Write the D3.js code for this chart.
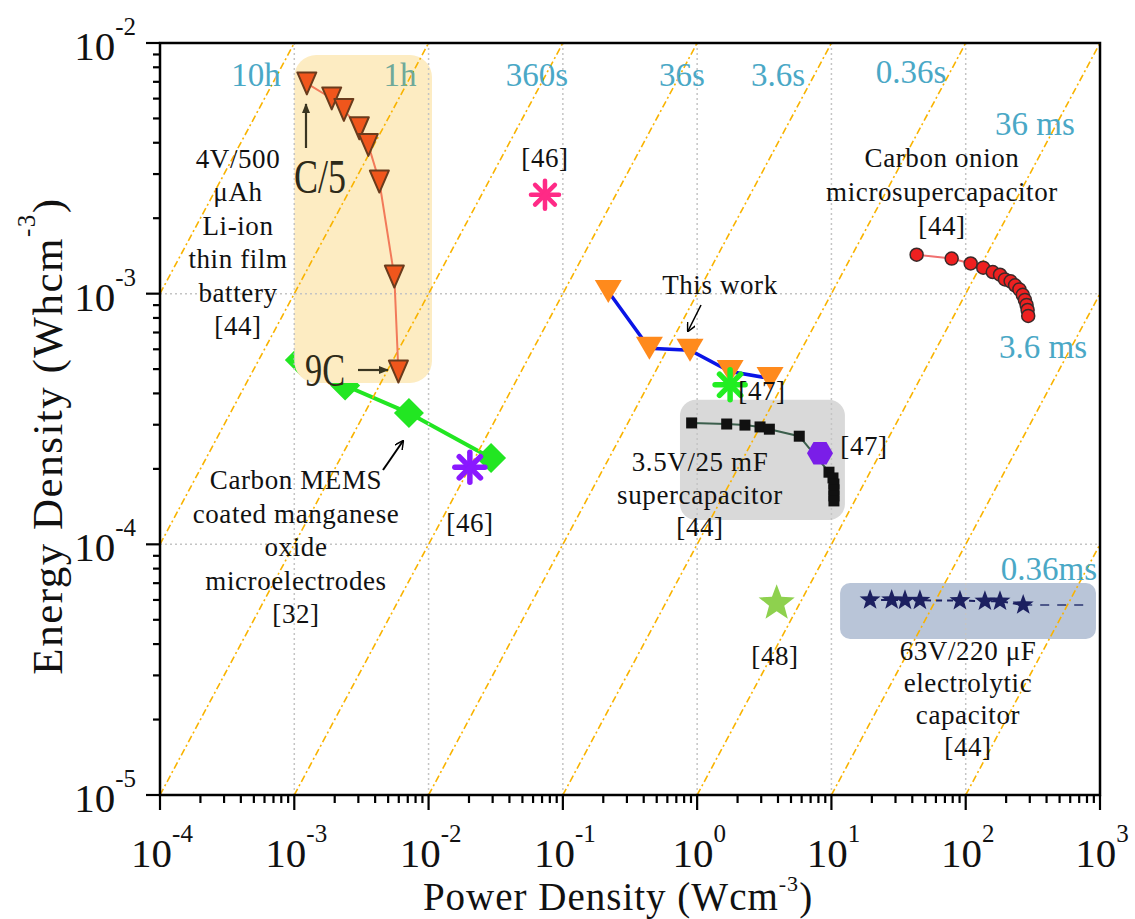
<!DOCTYPE html>
<html><head><meta charset="utf-8">
<script src="https://cdn.jsdelivr.net/npm/d3@7"></script>
<style>
body{margin:0;background:#fff}
svg{display:block}
text{font-family:"Liberation Serif","Times New Roman",serif}
</style>
</head><body>
<svg id="c" width="1135" height="919"></svg>
<script>
// ---------- data ----------
const xTickExps = [-4, -3, -2, -1, 0, 1, 2, 3];
const yTickExps = [-5, -4, -3, -2];
const timeConstHours = [10, 1, 0.1, 0.01, 0.001, 1e-4, 1e-5, 1e-6, 1e-7];
const timeLabels = ["10h", "1h", "360s", "36s", "3.6s", "0.36s", "36 ms", "3.6 ms", "0.36ms"];

// 4V/500 µAh Li-ion thin film battery [44]
const liionP = [1.24e-3, 1.90e-3, 2.34e-3, 3.05e-3, 3.56e-3, 4.30e-3, 5.56e-3, 5.96e-3];
const liionE = [6.90e-3, 6.01e-3, 5.41e-3, 4.57e-3, 3.92e-3, 2.80e-3, 1.17e-3, 4.89e-4];
// Carbon MEMS coated manganese oxide microelectrodes [32]
const memsP = [1.10e-3, 2.39e-3, 7.14e-3, 2.92e-2];
const memsE = [5.44e-4, 4.30e-4, 3.34e-4, 2.21e-4];
// This work
const workP = [0.218, 0.441, 0.885, 1.76, 3.49];
const workE = [1.02e-3, 6.05e-4, 5.95e-4, 4.89e-4, 4.59e-4];
// 3.5V/25 mF supercapacitor [44]
const superP = [0.910, 1.66, 2.27, 2.94, 3.45, 5.76, 9.59, 10.27, 10.44, 10.44, 10.44, 10.44];
const superE = [3.05e-4, 3.02e-4, 2.99e-4, 2.94e-4, 2.88e-4, 2.70e-4, 1.94e-4, 1.84e-4, 1.74e-4, 1.65e-4, 1.56e-4, 1.49e-4];
// Carbon onion microsupercapacitor [44]
const onionP = [43.1, 78.6, 108.9, 135, 159, 180, 196, 216, 233, 251, 266, 276, 284, 289, 292];
const onionE = [1.43e-3, 1.38e-3, 1.32e-3, 1.27e-3, 1.22e-3, 1.19e-3, 1.14e-3, 1.12e-3, 1.08e-3, 1.04e-3, 9.89e-4, 9.44e-4, 9.02e-4, 8.61e-4, 8.15e-4];
// 63V/220 µF electrolytic capacitor [44]
const elecP = [19.4, 28.1, 35.3, 45.6, 90.6, 139, 180, 268];
const elecE = [6.0e-5, 6.0e-5, 5.98e-5, 5.98e-5, 5.96e-5, 5.93e-5, 5.93e-5, 5.73e-5];
const elecTailP = [268, 770];
const elecTailE = [5.73e-5, 5.73e-5];
// single references
const ref46aP = [2.03e-2], ref46aE = [2.03e-4];   // purple asterisk
const ref46bP = [7.36e-2], ref46bE = [2.48e-3];   // magenta asterisk
const ref47aP = [1.76], ref47aE = [4.33e-4];      // green asterisk
const ref47bP = [8.22], ref47bE = [2.31e-4];      // purple hexagon
const ref48P = [3.91], ref48E = [5.82e-5];        // green star
// shaded boxes (data units)
const boxes = [
  {p0: 1.0e-3, p1: 1.06e-2, e0: 4.40e-4, e1: 8.95e-3, fill: "#fdecc2", r: 22},
  {p0: 0.745, p1: 12.6, e0: 1.25e-4, e1: 3.77e-4, fill: "#d9d9d9", r: 16},
  {p0: 11.6, p1: 933, e0: 4.19e-5, e1: 7.01e-5, fill: "#b9c5d8", r: 10}
];

// ---------- setup ----------
const svg = d3.select("#c");
const L = 160, R = 1100, T = 43, B = 795;
const x = d3.scaleLog().domain([1e-4, 1e3]).range([L, R]);
const y = d3.scaleLog().domain([1e-5, 1e-2]).range([B, T]);

svg.append("defs").append("clipPath").attr("id", "clip")
  .append("rect").attr("x", L).attr("y", T).attr("width", R - L).attr("height", B - T);
svg.select("defs").append("marker").attr("id", "arr").attr("viewBox", "0 0 10 10")
  .attr("refX", 9).attr("refY", 5).attr("markerWidth", 9).attr("markerHeight", 9)
  .attr("orient", "auto").attr("markerUnits", "userSpaceOnUse")
  .append("path").attr("d", "M0,0L10,5L0,10").attr("fill", "none").attr("stroke", "#000").attr("stroke-width", 1.6);
svg.select("defs").append("marker").attr("id", "arrB").attr("viewBox", "0 0 10 10")
  .attr("refX", 9).attr("refY", 5).attr("markerWidth", 10).attr("markerHeight", 10)
  .attr("orient", "auto").attr("markerUnits", "userSpaceOnUse")
  .append("path").attr("d", "M0,1L10,5L0,9Z").attr("fill", "#3a3520");

const plot = svg.append("g").attr("clip-path", "url(#clip)");
const pts = (P, E) => P.map((p, i) => [x(p), y(E[i])]);
const line = d3.line();

// ---------- MEMS series (under the yellow box) ----------
plot.append("path").attr("d", line(pts(memsP, memsE))).attr("fill", "none")
  .attr("stroke", "#22e622").attr("stroke-width", 4);
const diamond = r => `M0,${-r}L${r},0L0,${r}L${-r},0Z`;
plot.selectAll(".dm").data(pts(memsP, memsE)).join("path")
  .attr("d", diamond(15)).attr("transform", d => `translate(${d[0]},${d[1]})`).attr("fill", "#22e622");

// ---------- boxes ----------
plot.selectAll(".box").data(boxes).join("rect")
  .attr("x", d => x(d.p0)).attr("y", d => y(d.e1))
  .attr("width", d => x(d.p1) - x(d.p0)).attr("height", d => y(d.e0) - y(d.e1))
  .attr("rx", d => d.r).attr("fill", d => d.fill);

// ---------- grid ----------
const grid = plot.append("g").attr("stroke", "#c4c4c4").attr("stroke-width", 1.5).attr("stroke-dasharray", "2,3");
xTickExps.slice(1, -1).forEach(e => grid.append("line").attr("x1", x(10 ** e)).attr("x2", x(10 ** e)).attr("y1", T).attr("y2", B));
yTickExps.slice(1, -1).forEach(e => grid.append("line").attr("y1", y(10 ** e)).attr("y2", y(10 ** e)).attr("x1", L).attr("x2", R));

// ---------- time-constant lines ----------
timeConstHours.forEach(t => {
  const p0 = Math.max(1e-4, 1e-5 / t), p1 = Math.min(1e3, 1e-2 / t);
  if (p0 >= p1) return;
  plot.append("line").attr("x1", x(p0)).attr("y1", y(p0 * t)).attr("x2", x(p1)).attr("y2", y(p1 * t))
    .attr("stroke", "#f9b300").attr("stroke-width", 1.6).attr("stroke-dasharray", "7,3,2,3");
});

// ---------- Li-ion series ----------
const triDown = (w, h) => `M${-w / 2},${-h / 2}L${w / 2},${-h / 2}L0,${h / 2}Z`;
plot.append("path").attr("d", line(pts(liionP, liionE))).attr("fill", "none")
  .attr("stroke", "#f27a5a").attr("stroke-width", 2);
plot.selectAll(".li").data(pts(liionP, liionE)).join("path")
  .attr("d", triDown(19, 22)).attr("transform", d => `translate(${d[0]},${d[1]})`)
  .attr("fill", "#f0561c").attr("stroke", "#6a3b1c").attr("stroke-width", 2).attr("stroke-linejoin", "round");

// ---------- This work ----------
plot.append("path").attr("d", line(pts(workP, workE))).attr("fill", "none")
  .attr("stroke", "#0a14e6").attr("stroke-width", 3.5);
plot.selectAll(".tw").data(pts(workP, workE)).join("path")
  .attr("d", triDown(27, 23)).attr("transform", d => `translate(${d[0]},${d[1]})`).attr("fill", "#ff8a1c");

// ---------- supercapacitor ----------
plot.append("path").attr("d", line(pts(superP, superE))).attr("fill", "none")
  .attr("stroke", "#3b5e4c").attr("stroke-width", 2);
plot.selectAll(".sq").data(pts(superP, superE)).join("rect")
  .attr("x", d => d[0] - 5.5).attr("y", d => d[1] - 5.5).attr("width", 11).attr("height", 11).attr("fill", "#111");

// ---------- carbon onion ----------
plot.append("path").attr("d", line(pts(onionP, onionE))).attr("fill", "none")
  .attr("stroke", "#f07070").attr("stroke-width", 2);
plot.selectAll(".on").data(pts(onionP, onionE)).join("circle")
  .attr("cx", d => d[0]).attr("cy", d => d[1]).attr("r", 6.5)
  .attr("fill", "#ee2020").attr("stroke", "#3a2a2a").attr("stroke-width", 1.5);

// ---------- electrolytic ----------
const star = (R0, r0) => {
  let s = "";
  for (let i = 0; i < 10; i++) {
    const a = -Math.PI / 2 + i * Math.PI / 5, rr = i % 2 ? r0 : R0;
    s += (i ? "L" : "M") + (rr * Math.cos(a)).toFixed(2) + "," + (rr * Math.sin(a)).toFixed(2);
  }
  return s + "Z";
};
plot.append("path").attr("d", line(pts(elecP, elecE))).attr("fill", "none")
  .attr("stroke", "#1c2060").attr("stroke-width", 2).attr("stroke-dasharray", "6,5");
plot.append("path").attr("d", line(pts(elecTailP, elecTailE))).attr("fill", "none")
  .attr("stroke", "#2a3470").attr("stroke-width", 1.6).attr("stroke-dasharray", "9,8");
plot.selectAll(".st").data(pts(elecP, elecE)).join("path")
  .attr("d", star(11, 4.5)).attr("transform", d => `translate(${d[0]},${d[1]})`).attr("fill", "#1c2060");

// ---------- single refs ----------
const asterisk = (g, cx, cy, r, col, w) => {
  [0, 45, 90, 135].forEach(a => {
    const c = Math.cos(a * Math.PI / 180) * r, s = Math.sin(a * Math.PI / 180) * r;
    g.append("line").attr("x1", cx - c).attr("y1", cy - s).attr("x2", cx + c).attr("y2", cy + s)
      .attr("stroke", col).attr("stroke-width", w).attr("stroke-linecap", "round");
  });
};
pts(ref46aP, ref46aE).forEach(d => asterisk(plot, d[0], d[1], 15, "#8a18ff", 5.5));
pts(ref46bP, ref46bE).forEach(d => asterisk(plot, d[0], d[1], 14, "#ff2a86", 4.5));
pts(ref47aP, ref47aE).forEach(d => asterisk(plot, d[0], d[1], 15, "#22ee22", 5.5));
const hex = r => d3.range(6).map(i => { const a = i * Math.PI / 3; return [r * Math.cos(a), r * Math.sin(a)]; });
plot.selectAll(".hx").data(pts(ref47bP, ref47bE)).join("path")
  .attr("d", "M" + hex(13).join("L") + "Z").attr("transform", d => `translate(${d[0]},${d[1]})`).attr("fill", "#7a1ee8");
plot.selectAll(".gs").data(pts(ref48P, ref48E)).join("path")
  .attr("d", star(19, 8)).attr("transform", d => `translate(${d[0]},${d[1]})`).attr("fill", "#8ed14e");

// ---------- axes ----------
const ax = svg.append("g").attr("stroke", "#000").attr("stroke-width", 2.2);
ax.append("rect").attr("x", L).attr("y", T).attr("width", R - L).attr("height", B - T).attr("fill", "none").attr("stroke-width", 2.5);
const minor = [2, 3, 4, 5, 6, 7, 8, 9];
xTickExps.forEach((e, i) => {
  ax.append("line").attr("x1", x(10 ** e)).attr("x2", x(10 ** e)).attr("y1", B).attr("y2", B + 15);
  if (i < xTickExps.length - 1) minor.forEach(m => {
    const v = m * 10 ** e;
    ax.append("line").attr("x1", x(v)).attr("x2", x(v)).attr("y1", B).attr("y2", B + 8);
  });
});
yTickExps.forEach((e, i) => {
  ax.append("line").attr("y1", y(10 ** e)).attr("y2", y(10 ** e)).attr("x1", L).attr("x2", L - 14);
  if (i < yTickExps.length - 1) minor.forEach(m => {
    const v = m * 10 ** e;
    ax.append("line").attr("y1", y(v)).attr("y2", y(v)).attr("x1", L).attr("x2", L - 7);
  });
});
// tick labels
xTickExps.forEach(e => {
  const t = svg.append("text").attr("x", x(10 ** e) + 2).attr("y", 867).attr("text-anchor", "middle")
    .attr("font-size", 41).attr("fill", "#111");
  t.append("tspan").text("10");
  t.append("tspan").attr("font-size", 25).attr("dy", -25).text(e === 0 ? "0" : String(e));
});
yTickExps.forEach(e => {
  const t = svg.append("text").attr("x", 136).attr("y", y(10 ** e) + 17).attr("text-anchor", "end")
    .attr("font-size", 41).attr("fill", "#111");
  t.append("tspan").text("10");
  t.append("tspan").attr("font-size", 25).attr("dy", -25).text(String(e));
});
// axis titles
const xt = svg.append("text").attr("x", 618).attr("y", 910).attr("text-anchor", "middle")
  .attr("font-size", 39).attr("letter-spacing", 1).attr("fill", "#111");
xt.append("tspan").text("Power Density (Wcm");
xt.append("tspan").attr("font-size", 22).attr("dy", -19).text("-3");
xt.append("tspan").attr("dy", 19).text(")");
const yt = svg.append("text").attr("transform", "translate(62,436) rotate(-90)").attr("text-anchor", "middle")
  .attr("font-size", 43).attr("letter-spacing", 1.5).attr("fill", "#111");
yt.append("tspan").text("Energy Density (Whcm");
yt.append("tspan").attr("font-size", 25).attr("dy", -27).text("-3");
yt.append("tspan").attr("dy", 27).text(")");

// ---------- time labels ----------
const tlPos = [[256, 86], [400, 86], [537, 86], [682, 86], [778, 86], [911, 83], [1035, 135], [1043, 358], [1049, 580]];
timeLabels.forEach((s, i) => {
  svg.append("text").attr("x", tlPos[i][0]).attr("y", tlPos[i][1]).attr("text-anchor", "middle")
    .attr("font-size", 33).attr("fill", i === 1 ? "#6fa99a" : "#4aa8c6").text(s);
});

// ---------- annotations ----------
const block = (lines, cx, y0, dy) => lines.forEach((s, i) =>
  svg.append("text").attr("x", cx).attr("y", y0 + i * dy).attr("text-anchor", "middle")
    .attr("font-size", 27).attr("letter-spacing", 0.6).attr("fill", "#111").text(s));
block(["4V/500", "μAh", "Li-ion", "thin film", "battery", "[44]"], 238, 168, 33.4);
block(["Carbon MEMS", "coated manganese", "oxide", "microelectrodes", "[32]"], 296, 489, 33.5);
block(["3.5V/25 mF", "supercapacitor", "[44]"], 700, 471, 32.5);
block(["Carbon onion", "microsupercapacitor", "[44]"], 942, 167, 34);
block(["63V/220 μF", "electrolytic", "capacitor", "[44]"], 968, 660, 32);
block(["[46]"], 470, 532, 0);
block(["[46]"], 545, 167, 0);
block(["[47]"], 762, 400, 0);
block(["[47]"], 864, 455, 0);
block(["[48]"], 775, 665, 0);
block(["This work"], 720, 294, 0);

// arrows
svg.append("line").attr("x1", 701).attr("y1", 305).attr("x2", 688).attr("y2", 331)
  .attr("stroke", "#000").attr("stroke-width", 1.6).attr("marker-end", "url(#arr)");
svg.append("line").attr("x1", 383).attr("y1", 470).attr("x2", 403).attr("y2", 441)
  .attr("stroke", "#000").attr("stroke-width", 2).attr("marker-end", "url(#arr)");
svg.append("line").attr("x1", 306).attr("y1", 148).attr("x2", 306).attr("y2", 104)
  .attr("stroke", "#3a3520").attr("stroke-width", 2.2).attr("marker-end", "url(#arrB)");
svg.append("line").attr("x1", 358).attr("y1", 370).attr("x2", 388).attr("y2", 370)
  .attr("stroke", "#3a3520").attr("stroke-width", 2.2).attr("marker-end", "url(#arrB)");
svg.append("text").attr("x", 294).attr("y", 193).attr("font-family", "DejaVu Sans").attr("font-size", 48)
  .attr("textLength", 52).attr("lengthAdjust", "spacingAndGlyphs").attr("fill", "#2e2a18").text("C/5");
svg.append("text").attr("x", 305).attr("y", 386).attr("font-family", "DejaVu Sans").attr("font-size", 46)
  .attr("textLength", 40).attr("lengthAdjust", "spacingAndGlyphs").attr("fill", "#2e2a18").text("9C");
</script>
</body></html>
